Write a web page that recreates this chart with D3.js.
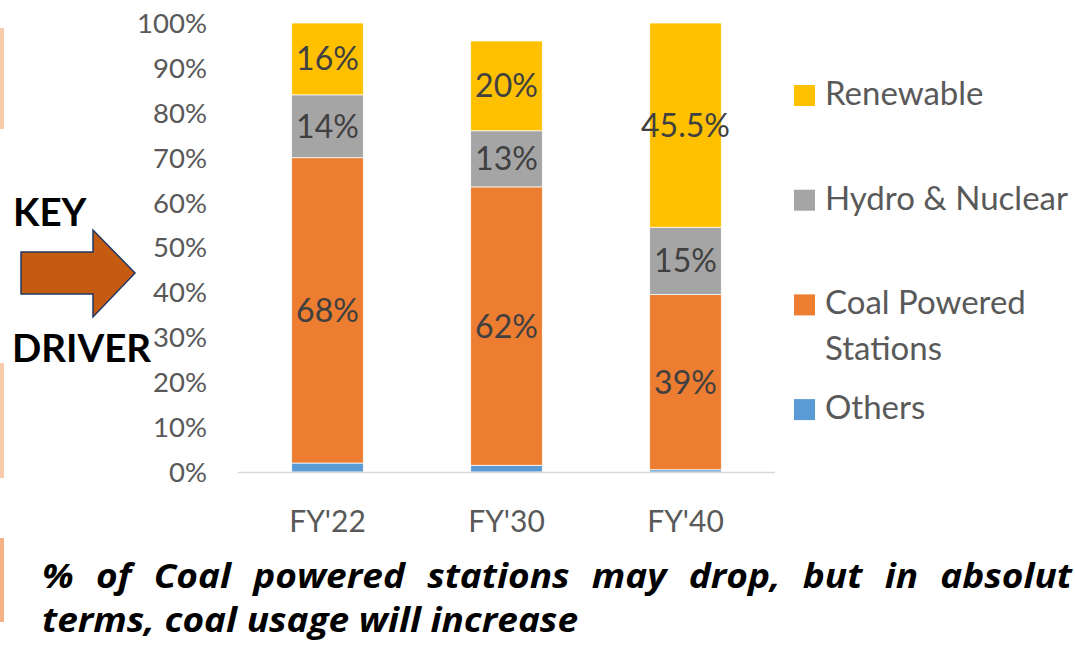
<!DOCTYPE html>
<html>
<head>
<meta charset="utf-8">
<script src="https://cdn.jsdelivr.net/npm/d3@7"></script>
<style>
  body { margin: 0; background: #fff; }
  svg { display: block; font-family: Lato, "Open Sans", sans-serif; }
</style>
</head>
<body>
<script>
(function(){

// chart data
var years = ["FY'22", "FY'30", "FY'40"];
var seriesNames = ["Others", "Coal Powered Stations", "Hydro & Nuclear", "Renewable"];
var others = [2, 1.5, 0.5];
var coal = [68, 62, 39];
var hydro = [14, 12.5, 15];
var renewable = [16, 20, 45.5];
var coalLabels = ["68%", "62%", "39%"];
var hydroLabels = ["14%", "13%", "15%"];
var renewableLabels = ["16%", "20%", "45.5%"];
var yTicks = [0, 10, 20, 30, 40, 50, 60, 70, 80, 90, 100];
var legendLabels = [["Renewable"], ["Hydro & Nuclear"], ["Coal Powered", "Stations"], ["Others"]];
var legendKeys = ["Renewable", "Hydro & Nuclear", "Coal Powered Stations", "Others"];
var noteLine1 = "% of Coal powered stations may drop, but in absolut";
var noteLine2 = "terms, coal usage will increase";

var colors = {
    "Others": "#5B9BD5",
    "Coal Powered Stations": "#ED7D31",
    "Hydro & Nuclear": "#A5A5A5",
    "Renewable": "#FFC000"
};

var width = 1075, height = 646;

var svg = d3.select("body").append("svg")
    .attr("width", width)
    .attr("height", height);

// table for the stack layout
var table = years.map(function(y, i){
    return {
        year: y,
        "Others": others[i],
        "Coal Powered Stations": coal[i],
        "Hydro & Nuclear": hydro[i],
        "Renewable": renewable[i]
    };
});
var labelTable = {
    "Coal Powered Stations": coalLabels,
    "Hydro & Nuclear": hydroLabels,
    "Renewable": renewableLabels
};

var x = d3.scaleBand().domain(years).range([238, 775]).paddingInner(0.6).paddingOuter(0.3);
var y = d3.scaleLinear().domain([0, 100]).range([472, 23]);

//side accent bars
svg.append("rect").attr("x", 0).attr("y", 28).attr("width", 4).attr("height", 101).attr("fill", "#F8CBAD");
svg.append("rect").attr("x", 0).attr("y", 363).attr("width", 4).attr("height", 115).attr("fill", "#F8CBAD");
svg.append("rect").attr("x", 0).attr("y", 538).attr("width", 4).attr("height", 84).attr("fill", "#F4B183");

// y axis labels
svg.append("g").selectAll("text")
    .data(yTicks)
    .enter().append("text")
    .attr("x", 207)
    .attr("y", function(d){ return y(d); })
    .attr("dy", "0.36em")
    .attr("text-anchor", "end")
    .attr("font-size", 27.5)
    .attr("fill", "#595959")
    .text(function(d){ return d + "%"; });

var stack = d3.stack().keys(seriesNames);
var layers = stack(table);

var g = svg.append("g");
g.selectAll("g.layer")
    .data(layers)
    .enter().append("g")
    .attr("class", "layer")
    .attr("fill", function(d){ return colors[d.key]; })
    .selectAll("rect")
    .data(function(d){ return d; })
    .enter().append("rect")
    .attr("x", function(d){ return x(d.data.year); })
    .attr("y", function(d){ return y(d[1]); })
    .attr("width", x.bandwidth())
    .attr("height", function(d){ return y(d[0]) - y(d[1]); })
    .attr("stroke", "#fff")
    .attr("stroke-width", 0.75);

// baseline
svg.append("line")
    .attr("x1", 238).attr("x2", 775)
    .attr("y1", y(0) + 0.5).attr("y2", y(0) + 0.5)
    .attr("stroke", "#D9D9D9")
    .attr("stroke-width", 1.5);

// value labels
layers.forEach(function(layer){
    var labs = labelTable[layer.key];
    if (!labs) return;
    g.selectAll(null)
        .data(layer)
        .enter().append("text")
        .attr("x", function(d){ return x(d.data.year) + x.bandwidth() / 2; })
        .attr("y", function(d){ return y((d[0] + d[1]) / 2); })
        .attr("dy", "0.36em")
        .attr("text-anchor", "middle")
        .attr("font-size", 32)
        .attr("fill", "#404040")
        .text(function(d, i){ return labs[i]; });
});

// x axis labels
svg.append("g").selectAll("text")
    .data(years)
    .enter().append("text")
    .attr("x", function(d){ return x(d) + x.bandwidth() / 2; })
    .attr("y", 532)
    .attr("text-anchor", "middle")
    .attr("font-size", 30)
    .attr("fill", "#595959")
    .text(function(d){ return d; });

// legend
var legend = svg.append("g").selectAll("g")
    .data(legendKeys)
    .enter().append("g")
    .attr("transform", function(d, i){ return "translate(794," + (85 + i * 104.7) + ")"; });
legend.append("rect")
    .attr("width", 21).attr("height", 21)
    .attr("fill", function(d){ return colors[d]; });
legend.append("text")
    .attr("x", 31)
    .attr("y", 20)
    .attr("font-size", 33)
    .attr("fill", "#595959")
    .selectAll("tspan")
    .data(function(d, i){ return legendLabels[i]; })
    .enter().append("tspan")
    .attr("x", 31)
    .attr("dy", function(d, i){ return i ? 46 : 0; })
    .text(function(d){ return d; });

// key driver arrow
svg.append("path")
    .attr("d", "M21,252 L93,252 L93,230 L135,273 L93,317 L93,294 L21,294 Z")
    .attr("fill", "#C55A11")
    .attr("stroke", "#1F3864")
    .attr("stroke-width", 1.5);
svg.append("text").attr("x", 13).attr("y", 226)
    .attr("font-size", 38.5).attr("font-weight", "bold").attr("fill", "#000")
    .text("KEY");
svg.append("text").attr("x", 12).attr("y", 362)
    .attr("font-size", 38.5).attr("font-weight", "bold").attr("fill", "#000")
    .text("DRIVER");

// note text: second line sets the glyph stretch, first line justified
var note = svg.append("g")
    .attr("font-family", "'Open Sans', Lato, sans-serif")
    .attr("font-size", 34)
    .attr("font-weight", "bold")
    .attr("font-style", "italic")
    .attr("fill", "#000");

var line2 = note.append("text")
    .attr("x", 42)
    .attr("y", 632)
    .text(noteLine2);
var line2Target = 536;
var stretch = line2Target / line2.node().getComputedTextLength();
line2.attr("textLength", line2Target).attr("lengthAdjust", "spacingAndGlyphs");

var words = noteLine1.split(" ");
var wt = note.selectAll("text.w")
    .data(words)
    .enter().append("text")
    .attr("class", "w")
    .attr("y", 588)
    .text(function(d){ return d; });
var widths = [];
wt.each(function(){ widths.push(this.getComputedTextLength() * stretch); });
wt.attr("textLength", function(d, i){ return widths[i]; })
  .attr("lengthAdjust", "spacingAndGlyphs");
var lineEnd = 1072;
var gap = (lineEnd - 42 - d3.sum(widths)) / (words.length - 1);
var cx = 42;
wt.attr("x", function(d, i){ var p = cx; cx += widths[i] + gap; return p; });

})();
</script>
</body>
</html>
